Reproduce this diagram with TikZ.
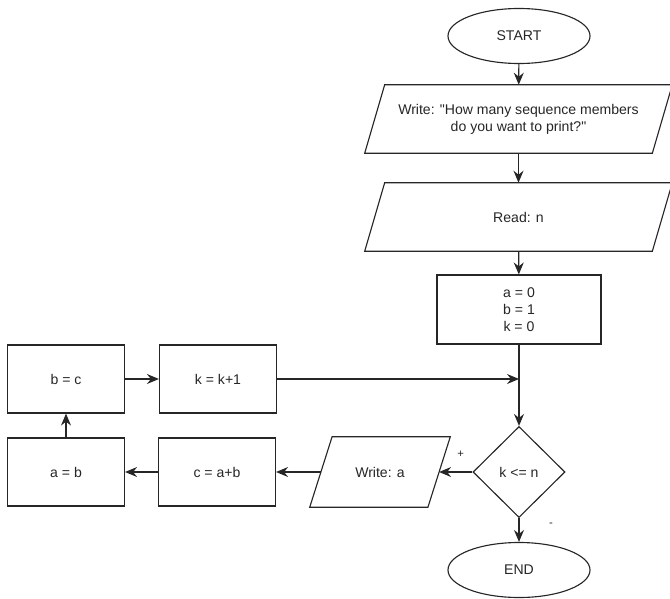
\documentclass[tikz,border=0pt]{standalone}
\usepackage{fontspec}
\setmainfont{Liberation Sans}
\usetikzlibrary{shapes.geometric,arrows.meta}

% outline of a parallelogram round a rectangle node
\newcommand\drawpara[2]{%
  \draw[line] ([xshift=#2]#1.north west) -- ([xshift=#2]#1.north east)
    -- ([xshift=-#2]#1.south east) -- ([xshift=-#2]#1.south west) -- cycle;}

\begin{document}
\begin{tikzpicture}[x=0.025cm, y=-0.025cm,
  every node/.style={font=\fontsize{10}{12}\selectfont, text=black!85},
  line/.style={draw=black!85, line width=0.8pt},
  arr/.style={line, -{Stealth[length=3mm, width=2.5mm, inset=1mm]}},
  term/.style={line, ellipse, minimum width=3.55cm, minimum height=1.375cm},
  io/.style={rectangle, minimum height=1.7cm, align=center},
  proc/.style={line, rectangle, minimum width=2.925cm, minimum height=1.7cm,
    align=center},
  test/.style={line, diamond, minimum width=2.3cm, minimum height=2.275cm,
    inner sep=0pt}]
\useasboundingbox (0,0) rectangle (670,598);

% main column
\node[term] (start) at (519,36) {START};
\node[io, minimum width=7.175cm] (ask) at (518.5,119)
  {Write: \textquotedbl How many sequence members\\do you want to print?\textquotedbl};
\node[io, minimum width=7.175cm] (read) at (518.5,217) {Read: n};
\node[proc, minimum width=4.1cm, minimum height=1.725cm] (init) at (519,309.5)
  {a = 0\\b = 1\\k = 0};
\node[test] (cond) at (519,472) {k <= n};
\node[term] (end) at (519,570) {END};

% loop body
\node[io, minimum width=2.94cm, minimum height=1.75cm] (out) at (380,472) {Write: a};
\node[proc] (cab) at (217,472) {c = a+b};
\node[proc] (ab) at (66,472) {a = b};
\node[proc] (bc) at (66,379) {b = c};
\node[proc] (kinc) at (218,379) {k = k+1};
\coordinate (join) at (kinc -| init);

\drawpara{ask}{0.25cm}
\drawpara{read}{0.25cm}
\drawpara{out}{0.28cm}

\draw[arr] (start) -- (ask);
\draw[arr] (ask) -- (read);
\draw[arr] (read) -- (init);
\draw[arr] (init) -- (cond);
\draw[arr] (kinc) -- (join);

\draw[arr] (cond) -- node[pos=0.35, yshift=0.45cm, font=\footnotesize] (plus) {+} (out);
\draw[arr] (cond) -- node[pos=0.3, xshift=0.8cm, font=\footnotesize] (minus) {-} (end);

\draw[arr] (out) -- (cab);
\draw[arr] (cab) -- (ab);
\draw[arr] (ab) -- (bc);
\draw[arr] (bc) -- (kinc);

\end{tikzpicture}
\end{document}
